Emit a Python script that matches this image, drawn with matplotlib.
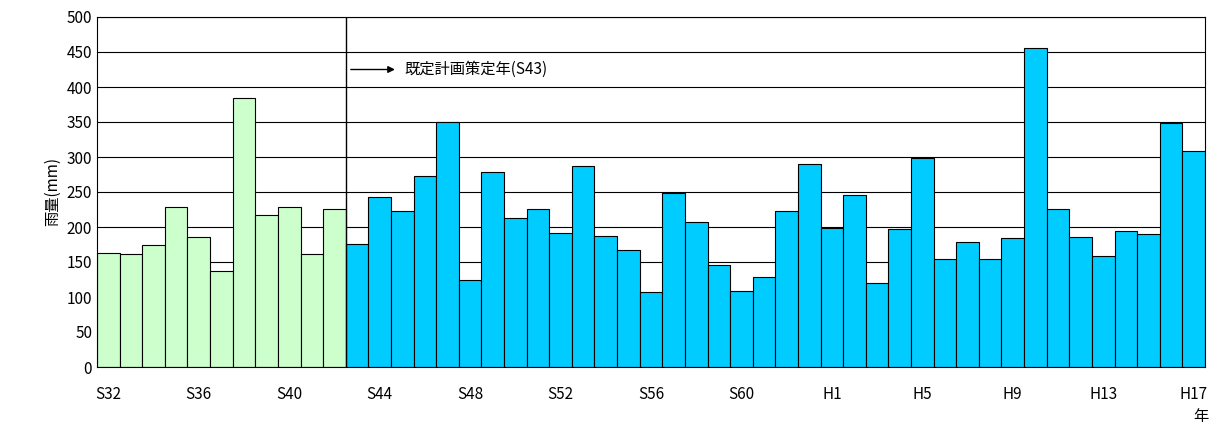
import matplotlib.pyplot as plt
import numpy as np

plt.rcParams['font.family'] = ['Noto Sans CJK JP', 'DejaVu Sans']

years = ['S%d' % y for y in range(32, 64)] + ['H%d' % y for y in range(1, 18)]
rain = [163, 161, 174, 229, 186, 137, 384, 217, 229, 161, 225,
        176, 243, 223, 273, 350, 125, 279, 213, 225, 191, 287, 187, 167, 107,
        249, 207, 146, 109, 129, 223, 290,
        199, 245, 120, 197, 298, 155, 178, 155, 184, 455, 225, 186, 158, 195,
        190, 348, 308]
n_green = 11
tick_labels = ['S32', 'S36', 'S40', 'S44', 'S48', 'S52', 'S56', 'S60',
               'H1', 'H5', 'H9', 'H13', 'H17']

fig = plt.figure(figsize=(12.18, 4.26), dpi=100)
ax = fig.add_axes([97/1218, 59/426, 1108/1218, 350/426])

x = np.arange(len(rain))
colors = ['#ccffcc'] * n_green + ['#00ccff'] * (len(rain) - n_green)
ax.set_axisbelow(True)
ax.grid(axis='y', color='black', linewidth=0.8)
ax.bar(x, rain, width=1.0, color=colors, edgecolor='black', linewidth=0.8)
ax.axvline(n_green - 0.5, color='black', linewidth=1)

ax.set_xlim(-0.5, len(rain) - 0.5)
ax.set_ylim(0, 500)
ax.set_yticks(range(0, 501, 50))
ax.set_xticks([years.index(t) for t in tick_labels])
ax.set_xticklabels(tick_labels)
ax.tick_params(axis='both', length=0, labelsize=11)
ax.tick_params(axis='x', pad=14)
ax.set_ylabel('雨量(mm)', fontsize=11)

ax.annotate('', xy=(12.8, 425), xytext=(n_green - 0.4, 425),
            arrowprops=dict(arrowstyle='-|>', color='black', lw=1))
ax.text(13.1, 425, '既定計画策定年(S43)', fontsize=11, va='center')
ax.text(len(rain) - 1 + 0.3, -70, '年', fontsize=11, ha='center', va='center',
        clip_on=False)

fig.savefig('out.png')
